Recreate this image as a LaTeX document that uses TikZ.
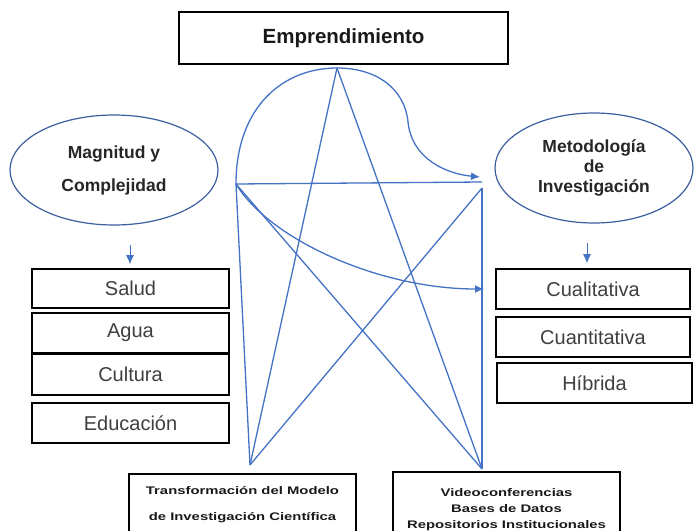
\documentclass[tikz,border=0pt]{standalone}
\usepackage{fontspec}
\setmainfont{Liberation Sans}
\newfontfamily\widefont[FakeStretch=1.35]{Liberation Sans}
\usepackage{tikz}
\usetikzlibrary{arrows.meta,shapes,positioning}

\definecolor{lineblue}{HTML}{4472C4}
\definecolor{ovalblue}{HTML}{3B5E9E}
\definecolor{txtgray}{HTML}{3F3F3F}

\begin{document}
\begin{tikzpicture}[x=1pt,y=-1pt,
	box/.style={draw=black,line width=1.6pt,rectangle,inner sep=0pt,
		text=txtgray,font=\fontsize{20}{24}\selectfont},
	oval/.style={draw=ovalblue,line width=1.2pt,ellipse,inner sep=0pt,
		align=center,text=black!85},
	lowbox/.style={draw=black,line width=1.6pt,rectangle,inner sep=0pt,
		align=center,text=black!90},
	link/.style={lineblue,line width=1.3pt},
	linkarrow/.style={link,-{Latex[length=9pt,width=8pt]}}]

	\useasboundingbox (0,0) rectangle (695,530);

	\node[box,minimum width=329,minimum height=52,text=black!90,
		font=\fontsize{20.5}{24}\selectfont\bfseries] (emp) at (343.5,38) {Emprendimiento};

	\node[oval,minimum width=208,minimum height=110,
		font=\fontsize{17.5}{33}\selectfont\bfseries] (magn) at (114,170) {Magnitud y\\Complejidad};
	\node[oval,minimum width=198,minimum height=110,
		font=\fontsize{17.5}{20}\selectfont\bfseries] (metod) at (594,168) {Metodología\\de\\Investigación};

	\node[box,minimum width=197,minimum height=39] (salud) at (130.5,288.5) {Salud};
	\node[box,minimum width=197,minimum height=40] (agua) at (130.5,333) {Agua};
	\node[box,minimum width=197,minimum height=41] (cult) at (130.5,374.5) {Cultura};
	\node[box,minimum width=197,minimum height=40] (educ) at (130.5,423) {Educación};

	\node[box,minimum width=194,minimum height=40] (cual) at (593,289) {Cualitativa};
	\node[box,minimum width=194,minimum height=40] (cuant) at (593,337) {Cuantitativa};
	\node[box,minimum width=195,minimum height=40] (hibr) at (594.5,383) {Híbrida};

	\node[lowbox,anchor=north,minimum width=227,minimum height=62,
		font=\widefont\bfseries\fontsize{11}{26}\selectfont] (transf) at (242.5,473)
		{Transformación del Modelo\\de Investigación Científica};
	\node[lowbox,anchor=north,minimum width=227,minimum height=76,
		font=\widefont\bfseries\fontsize{11}{16}\selectfont] (video) at (506.5,471)
		{Videoconferencias\\Bases de Datos\\Repositorios Institucionales};

	% small arrows under the ovals
	\coordinate (magnout) at (130,245);
	\coordinate (metodout) at (587,243);
	\draw[linkarrow,line width=1pt,shorten >=4pt] (magnout) -- (magnout |- salud.north);
	\draw[linkarrow,line width=1pt,shorten >=5pt] (metodout) -- (metodout |- cual.north);

	% star
	\coordinate (top) at (337,68);
	\coordinate (left) at (236,184);
	\coordinate (right) at (482,188);
	\coordinate (righttop) at (482,182);
	\coordinate (bleft) at (250,465);
	\coordinate (bright) at (482,469);
	\coordinate (tipup) at (480,177);
	\coordinate (tipdown) at (484,289);

	\draw[linkarrow] (left) .. controls (236,108) and (282,68) .. (top)
		.. controls (378,68) and (405,90) .. (408,122)
		.. controls (412,160) and (448,174) .. (tipup);
	\draw[link] (left) -- (righttop);
	\draw[linkarrow] (left) .. controls (270,240) and (380,289) .. (tipdown);

	\draw[link] (left) -- (bleft);
	\draw[link] (left) -- (bright);
	\draw[link] (top) -- (bleft);
	\draw[link] (top) -- (bright);
	\draw[link] (right) -- (bleft);
	\draw[link] (right) -- (bright);

\end{tikzpicture}
\end{document}
